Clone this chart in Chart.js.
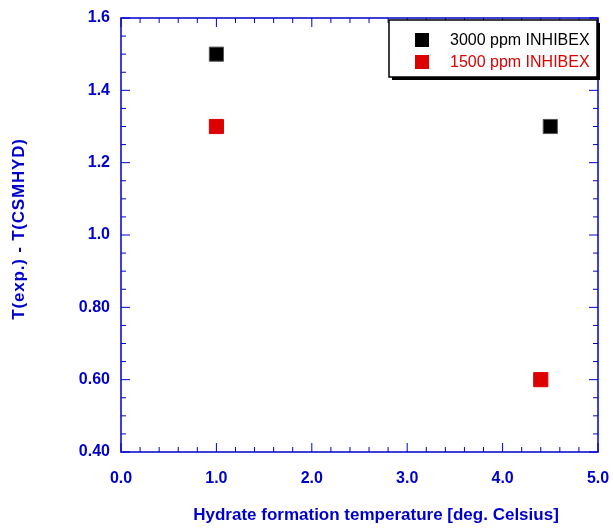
<!DOCTYPE html>
<html>
<head>
<meta charset="utf-8">
<script src="https://cdn.jsdelivr.net/npm/chart.js@4"></script>
<style>
  body { margin: 0; background: #fff; }
</style>
</head>
<body>
<canvas id="c" width="613" height="530"></canvas>
<script>
// data
var seriesNames = ['3000 ppm INHIBEX', '1500 ppm INHIBEX'];
var x3000 = [1.0, 4.5];
var y3000 = [1.5, 1.3];
var x1500 = [1.0, 4.4];
var y1500 = [1.3, 0.6];
var xTickLabels = ['0.0', '1.0', '2.0', '3.0', '4.0', '5.0'];
var yTickLabels = ['0.40', '0.60', '0.80', '1.0', '1.2', '1.4', '1.6'];

var blue = '#0000cc';
var fontName = '"Liberation Sans", Arial, sans-serif';

function pts(xs, ys) {
  return xs.map(function (x, i) { return { x: x, y: ys[i] }; });
}

// frame, inward ticks, axis titles and the boxed legend
var decor = {
  id: 'decor',
  afterDatasetsDraw: function (chart) {
    var ctx = chart.ctx, a = chart.chartArea;
    var xs = chart.scales.x, ys = chart.scales.y;
    ctx.save();
    ctx.strokeStyle = blue;
    ctx.lineWidth = 1.5;
    ctx.strokeRect(a.left, a.top, a.right - a.left, a.bottom - a.top);
    ctx.lineWidth = 1;
    ctx.beginPath();
    for (var v = 0; v <= 50; v += 2) {
      var px = xs.getPixelForValue(v / 10);
      var len = v % 10 === 0 ? 9 : 5;
      ctx.moveTo(px, a.bottom); ctx.lineTo(px, a.bottom - len);
      ctx.moveTo(px, a.top); ctx.lineTo(px, a.top + len);
    }
    for (var w = 40; w <= 160; w += 5) {
      var py = ys.getPixelForValue(w / 100);
      var l2 = w % 20 === 0 ? 9 : 5;
      ctx.moveTo(a.left, py); ctx.lineTo(a.left + l2, py);
      ctx.moveTo(a.right, py); ctx.lineTo(a.right - l2, py);
    }
    ctx.stroke();
    ctx.restore();
  },
  afterDraw: function (chart) {
    var ctx = chart.ctx;
    ctx.save();
    // axis titles
    ctx.fillStyle = blue;
    ctx.font = 'bold 17px ' + fontName;
    ctx.textAlign = 'center';
    ctx.textBaseline = 'middle';
    ctx.fillText('Hydrate formation temperature [deg. Celsius]', 376, 515);
    ctx.translate(19, 229);
    ctx.rotate(-Math.PI / 2);
    ctx.letterSpacing = '0.8px';
    ctx.fillText('T(exp.) - T(CSMHYD)', 0, 0);
    ctx.restore();

    // legend
    ctx.save();
    var bx = 389, by = 20, bw = 208, bh = 57;
    ctx.fillStyle = '#000';
    ctx.fillRect(bx + 3, by + 3, bw, bh);
    ctx.fillStyle = '#fff';
    ctx.fillRect(bx, by, bw, bh);
    ctx.strokeStyle = '#000';
    ctx.lineWidth = 1.5;
    ctx.strokeRect(bx, by, bw, bh);
    ctx.font = '16px ' + fontName;
    ctx.textAlign = 'left';
    ctx.textBaseline = 'middle';
    chart.data.datasets.forEach(function (ds, i) {
      var cy = 40 + i * 22;
      ctx.fillStyle = ds.backgroundColor;
      ctx.fillRect(415, cy - 7, 14, 14);
      ctx.fillText(ds.label, 450, cy + 1);
    });
    ctx.restore();
  }
};

new Chart(document.getElementById('c'), {
  type: 'scatter',
  data: {
    datasets: [{
      label: seriesNames[0],
      data: pts(x3000, y3000),
      backgroundColor: '#000000',
      borderColor: '#555555',
      borderWidth: 1,
      pointStyle: 'rect',
      pointRadius: 10,
      pointHoverRadius: 10
    }, {
      label: seriesNames[1],
      data: pts(x1500, y1500),
      backgroundColor: '#dd0000',
      borderColor: '#dd0000',
      borderWidth: 1,
      pointStyle: 'rect',
      pointRadius: 10,
      pointHoverRadius: 10
    }]
  },
  options: {
    responsive: false,
    animation: false,
    layout: { padding: { top: 18, right: 15, left: 0, bottom: 0 } },
    plugins: { legend: { display: false }, tooltip: { enabled: false } },
    scales: {
      x: {
        type: 'linear',
        min: 0, max: 5,
        afterFit: function (s) {
          s.height = 78;
          s.paddingLeft = 0;
          s.paddingRight = 0;
        },
        afterBuildTicks: function (s) {
          s.ticks = xTickLabels.map(function (t, i) { return { value: i }; });
        },
        grid: { display: false, drawTicks: false },
        border: { display: false },
        ticks: {
          padding: 17,
          color: blue,
          font: { family: fontName, size: 16, weight: 'bold' },
          callback: function (v, i) { return xTickLabels[i]; }
        }
      },
      y: {
        type: 'linear',
        min: 0.4, max: 1.6,
        afterFit: function (s) {
          s.width = 121;
          s.paddingTop = 0;
          s.paddingBottom = 0;
        },
        afterBuildTicks: function (s) {
          s.ticks = yTickLabels.map(function (t) { return { value: parseFloat(t) }; });
        },
        grid: { display: false, drawTicks: false },
        border: { display: false },
        ticks: {
          padding: 11,
          color: blue,
          font: { family: fontName, size: 16, weight: 'bold' },
          callback: function (v, i) { return yTickLabels[i]; }
        }
      }
    }
  },
  plugins: [decor]
});
</script>
</body>
</html>
